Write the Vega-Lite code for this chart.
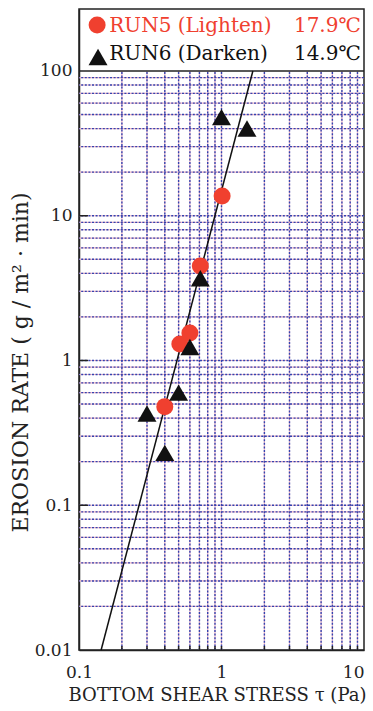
{
  "$schema": "https://vega.github.io/schema/vega-lite/v6.json",
  "width": 285,
  "height": 641,
  "autosize": {"type": "none"},
  "padding": {"left": 79, "top": 9, "right": 9, "bottom": 61},
  "background": "white",
  "config": {
    "view": {"stroke": "#222222", "strokeWidth": 1.5},
    "font": "DejaVu Serif",
    "axis": {
      "grid": false,
      "ticks": false,
      "domainColor": "#222222",
      "domainWidth": 1.5,
      "labelFont": "DejaVu Serif",
      "labelFontSize": 17,
      "labelColor": "#222222",
      "titleFont": "DejaVu Serif",
      "titleFontWeight": "normal",
      "titleColor": "#222222"
    }
  },
  "datasets": {
    "hgrid": [
      {"v": 0.02}, {"v": 0.03}, {"v": 0.04}, {"v": 0.05}, {"v": 0.06}, {"v": 0.07}, {"v": 0.08}, {"v": 0.09},
      {"v": 0.1}, {"v": 0.2}, {"v": 0.3}, {"v": 0.4}, {"v": 0.5}, {"v": 0.6}, {"v": 0.7}, {"v": 0.8}, {"v": 0.9},
      {"v": 1}, {"v": 2}, {"v": 3}, {"v": 4}, {"v": 5}, {"v": 6}, {"v": 7}, {"v": 8}, {"v": 9},
      {"v": 10}, {"v": 20}, {"v": 30}, {"v": 40}, {"v": 50}, {"v": 60}, {"v": 70}, {"v": 80}, {"v": 90}
    ],
    "vgrid": [
      {"v": 0.2}, {"v": 0.3}, {"v": 0.4}, {"v": 0.5}, {"v": 0.6}, {"v": 0.7}, {"v": 0.8}, {"v": 0.9},
      {"v": 1}, {"v": 2}, {"v": 3}, {"v": 4}, {"v": 5}, {"v": 6}, {"v": 7}, {"v": 8}, {"v": 9}
    ],
    "ytick": [{"v": 0.1}, {"v": 1}, {"v": 10}],
    "fit": [{"tau": 0.143, "rate": 0.01}, {"tau": 1.66, "rate": 100}],
    "pts": [
      {"tau": 0.40, "rate": 0.48, "run": "RUN5"},
      {"tau": 0.51, "rate": 1.30, "run": "RUN5"},
      {"tau": 0.60, "rate": 1.55, "run": "RUN5"},
      {"tau": 0.71, "rate": 4.5, "run": "RUN5"},
      {"tau": 1.01, "rate": 13.7, "run": "RUN5"},
      {"tau": 0.30, "rate": 0.43, "run": "RUN6"},
      {"tau": 0.40, "rate": 0.23, "run": "RUN6"},
      {"tau": 0.50, "rate": 0.60, "run": "RUN6"},
      {"tau": 0.60, "rate": 1.24, "run": "RUN6"},
      {"tau": 0.71, "rate": 3.7, "run": "RUN6"},
      {"tau": 1.00, "rate": 48, "run": "RUN6"},
      {"tau": 1.51, "rate": 40, "run": "RUN6"}
    ],
    "legsym": [
      {"tau": 0.134, "rate": 208, "run": "RUN5"},
      {"tau": 0.136, "rate": 125, "run": "RUN6"}
    ],
    "legname": [
      {"tau": 0.163, "rate": 205, "run": "RUN5", "label": "RUN5 (Lighten)"},
      {"tau": 0.163, "rate": 130, "run": "RUN6", "label": "RUN6 (Darken)"}
    ],
    "legtemp": [
      {"tau": 9.5, "rate": 205, "run": "RUN5", "label": "17.9℃"},
      {"tau": 9.5, "rate": 130, "run": "RUN6", "label": "14.9℃"}
    ]
  },
  "layer": [
    {
      "data": {"name": "vgrid"},
      "mark": {"type": "rule", "color": "#f0b4c4", "strokeWidth": 1.2},
      "encoding": {
        "x": {
          "field": "v", "type": "quantitative",
          "scale": {"type": "log", "domain": [0.1, 10], "nice": false},
          "axis": {
            "values": [0.1, 1, 10], "format": "~g", "labelFlush": false, "labelPadding": 14,
            "labelAlign": {"condition": {"test": "datum.value >= 10", "value": "right"}, "value": "center"},
            "labelDx": {"condition": {"test": "datum.value >= 10", "value": 7}, "value": 3},
            "title": "BOTTOM SHEAR STRESS τ (Pa)", "titleFontSize": 18, "titleX": 138, "titleY": 36, "titleBaseline": "top"
          }
        },
        "y": {
          "datum": 0.01, "type": "quantitative",
          "scale": {"type": "log", "domain": [0.01, 268], "nice": false},
          "axis": {
            "values": [0.01, 0.1, 1, 10, 100], "format": "~g", "labelPadding": 7,
            "title": "EROSION RATE ( g / m² · min)", "titleFontSize": 22, "titleX": -47, "titleY": 353, "titleAngle": -90
          }
        },
        "y2": {"datum": 100}
      }
    },
    {
      "data": {"name": "hgrid"},
      "mark": {"type": "rule", "color": "#f0b4c4", "strokeWidth": 1.2},
      "encoding": {
        "y": {"field": "v", "type": "quantitative"}
      }
    },
    {
      "data": {"name": "vgrid"},
      "mark": {"type": "rule", "color": "#3344b0", "strokeWidth": 1.4, "strokeDash": [2, 1.6]},
      "encoding": {
        "x": {"field": "v", "type": "quantitative"},
        "y": {"datum": 0.01, "type": "quantitative"},
        "y2": {"datum": 100}
      }
    },
    {
      "data": {"name": "hgrid"},
      "mark": {"type": "rule", "color": "#3344b0", "strokeWidth": 1.4, "strokeDash": [2, 1.6]},
      "encoding": {
        "y": {"field": "v", "type": "quantitative"}
      }
    },
    {
      "data": {"name": "ytick"},
      "mark": {"type": "rule", "color": "#222222", "strokeWidth": 1.5},
      "encoding": {
        "y": {"field": "v", "type": "quantitative"},
        "x": {"datum": 0.1, "type": "quantitative"},
        "x2": {"datum": 0.1157}
      }
    },
    {
      "data": {"name": "vgrid"},
      "mark": {"type": "rule", "color": "#222222", "strokeWidth": 1.5},
      "encoding": {
        "x": {"field": "v", "type": "quantitative"},
        "y": {"datum": 0.01, "type": "quantitative"},
        "y2": {"datum": 0.01066}
      }
    },
    {
      "data": {"values": [{"v": 100}]},
      "mark": {"type": "rule", "color": "#222222", "strokeWidth": 1.5},
      "encoding": {
        "y": {"field": "v", "type": "quantitative"}
      }
    },
    {
      "data": {"name": "fit"},
      "mark": {"type": "line", "color": "#111111", "strokeWidth": 1.5},
      "encoding": {
        "x": {"field": "tau", "type": "quantitative"},
        "y": {"field": "rate", "type": "quantitative"}
      }
    },
    {
      "data": {"name": "pts"},
      "mark": {"type": "point", "filled": true, "opacity": 1},
      "encoding": {
        "x": {"field": "tau", "type": "quantitative"},
        "y": {"field": "rate", "type": "quantitative"},
        "shape": {"field": "run", "type": "nominal", "scale": {"domain": ["RUN5", "RUN6"], "range": ["circle", "triangle-up"]}, "legend": null},
        "color": {"field": "run", "type": "nominal", "scale": {"domain": ["RUN5", "RUN6"], "range": ["#f0402f", "#111111"]}, "legend": null},
        "size": {"field": "run", "type": "nominal", "scale": {"domain": ["RUN5", "RUN6"], "range": [289, 360]}, "legend": null}
      }
    },
    {
      "data": {"name": "legsym"},
      "mark": {"type": "point", "filled": true, "opacity": 1},
      "encoding": {
        "x": {"field": "tau", "type": "quantitative"},
        "y": {"field": "rate", "type": "quantitative"},
        "shape": {"field": "run", "type": "nominal", "legend": null},
        "color": {"field": "run", "type": "nominal", "legend": null},
        "size": {"field": "run", "type": "nominal", "legend": null}
      }
    },
    {
      "data": {"name": "legname"},
      "mark": {"type": "text", "align": "left", "baseline": "middle", "font": "DejaVu Serif", "fontSize": 20},
      "encoding": {
        "x": {"field": "tau", "type": "quantitative"},
        "y": {"field": "rate", "type": "quantitative"},
        "text": {"field": "label"},
        "color": {"field": "run", "type": "nominal", "legend": null}
      }
    },
    {
      "data": {"name": "legtemp"},
      "mark": {"type": "text", "align": "right", "baseline": "middle", "font": "DejaVu Serif", "fontSize": 20},
      "encoding": {
        "x": {"field": "tau", "type": "quantitative"},
        "y": {"field": "rate", "type": "quantitative"},
        "text": {"field": "label"},
        "color": {"field": "run", "type": "nominal", "legend": null}
      }
    }
  ]
}
